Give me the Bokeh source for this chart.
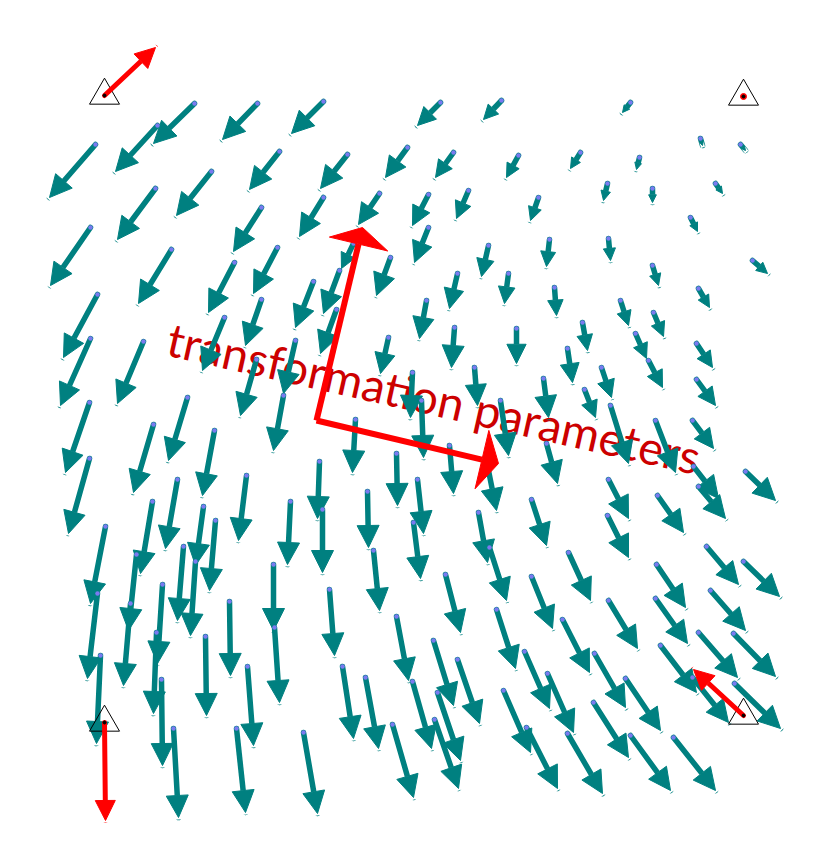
import numpy as np
from bokeh.plotting import figure
from bokeh.models import ColumnDataSource, Arrow, NormalHead, Range1d
from bokeh.core.properties import value
from bokeh.embed import file_html
from bokeh.resources import INLINE

# ---- data (image-pixel coordinates: tail x, tail y, head x, head y) ----
tail_x = [194,257,323,157,95,279,347,407,211,155,90,261,323,379,171,234,277,353,390,339,313,97,224,261,336,388,295,90,143,256,283,89,187,
          153,214,355,89,177,246,319,396,152,203,195,215,290,322,367,105,183,136,130,97,162,156,229,273,274,329,373,396,205,100,161,247,342,365,392,173,236,303,
          440,501,630,700,740,453,518,580,639,607,652,715,428,468,538,690,428,488,549,608,752,652,457,508,554,698,426,620,653,454,516,582,635,696,567,648,601,696,474,543,584,412,
          692,449,500,546,610,655,693,698,745,417,488,531,608,657,607,413,478,489,568,706,743,656,445,531,710,655,608,496,562,698,733,660,433,457,524,594,412,437,547,625,692,734,503,593,434,526,567,630,673,421]
tail_y = [103,103,101,125,144,151,154,147,171,188,227,207,197,193,249,262,247,243,257,270,281,294,317,299,309,337,340,338,341,359,395,402,397,
          424,430,419,458,479,475,461,453,501,506,561,520,501,509,491,526,546,554,603,593,584,632,601,564,627,589,550,616,636,655,679,666,666,677,724,728,728,732,
          102,100,102,138,144,152,155,152,157,183,188,183,194,190,197,217,227,245,239,238,260,265,273,273,287,288,300,300,312,327,328,322,333,343,348,360,367,379,367,378,389,372,
          420,445,400,443,405,420,466,486,471,479,470,499,479,495,515,522,512,547,552,546,561,564,574,576,590,598,600,609,619,632,633,645,640,659,651,653,681,692,673,678,677,683,690,702,719,727,733,735,737,400]
head_x = [153,222,291,115,49,249,320,385,176,117,50,233,299,358,138,208,253,341,376,323,295,63,202,245,320,380,283,60,117,240,273,65,168,
          133,202,352,68,165,238,317,397,140,195,190,209,287,322,368,90,177,128,123,87,157,153,230,273,279,334,379,408,206,96,162,253,353,378,413,178,245,317,
          417,483,622,702,745,435,506,570,636,603,652,722,412,456,530,697,414,481,546,610,767,658,449,504,556,709,419,628,663,451,516,587,646,712,572,662,611,715,477,548,595,410,
          713,453,508,557,628,675,718,725,775,423,496,546,628,683,628,420,487,506,590,738,779,685,460,552,745,687,637,515,589,737,775,696,453,479,549,625,431,460,573,660,728,780,530,628,458,557,602,670,715,423]
head_y = [143,139,133,171,197,189,188,177,215,239,285,251,236,224,303,312,293,268,295,313,327,357,370,345,353,373,393,405,403,415,450,472,460,
          492,495,472,533,548,540,518,505,573,565,635,590,564,572,547,603,620,630,685,678,663,713,675,630,702,655,610,680,715,743,765,745,738,748,797,817,812,813,
          125,119,112,145,150,177,177,168,169,200,202,193,225,218,220,231,262,276,266,260,273,285,308,303,315,307,338,325,336,367,363,350,358,367,382,387,397,405,405,417,417,417,
          448,493,455,483,463,472,498,518,500,533,510,545,518,532,557,578,562,600,600,584,596,607,632,628,630,643,648,668,672,677,676,692,705,723,708,707,748,760,732,730,722,728,752,757,788,788,793,790,790,457]

# control points (triangles) and their displacement arrows
cp_x = [104, 743, 104, 743]
cp_y = [95, 96, 722, 715]
cp_dx = [51, 0, 1, -50]
cp_dy = [-48, 0, 98, -46]

# transformation parameter axes
origin = (316, 420)
axis_tip_x = [362, 498]
axis_tip_y = [227, 463]

label_text = "transformation parameters"

TEAL = "#008080"
RED = "#ff0000"

p = figure(width=808, height=838, output_backend="svg", toolbar_location=None,
           x_range=Range1d(0, 808), y_range=Range1d(838, 0),
           min_border=0, outline_line_color=None)
p.axis.visible = False
p.grid.visible = False
p.background_fill_color = "white"
p.border_fill_color = "white"

# label (drawn beneath the vector field)
p.text(x=[168], y=[337], text=[label_text], angle=-0.222,
       text_font=value("Lato"), text_font_size="46.5px", text_color="#cc0000",
       text_align="left", text_baseline="alphabetic", level="underlay")

tx0 = np.array(tail_x, float); ty0 = np.array(tail_y, float)
hx0 = np.array(head_x, float); hy0 = np.array(head_y, float)
alen = np.hypot(hx0 - tx0, hy0 - ty0)
hsize = np.clip(alen * 0.55, 4, 22)

src = ColumnDataSource(dict(x0=tail_x, y0=tail_y, x1=head_x, y1=head_y, hs=hsize))
teal_arrows = Arrow(end=NormalHead(size="hs", fill_color=TEAL, line_color=TEAL, line_width=1),
                    x_start="x0", y_start="y0", x_end="x1", y_end="y1", source=src,
                    line_color=TEAL, line_width=5.5, line_cap="round", level="underlay")
p.add_layout(teal_arrows)
p.scatter("x0", "y0", source=src, size=4.5, color="#7a7af0", line_color=None)

# big red axes
ox, oy = origin
tx = np.array(axis_tip_x, float); ty = np.array(axis_tip_y, float)
dx = tx - ox; dy = ty - oy
ln = np.hypot(dx, dy)
ux, uy = dx / ln, dy / ln
hl, hw = 17.0, 30.0
bx, by = tx - ux * hl, ty - uy * hl
p.segment(x0=[ox, ox], y0=[oy, oy], x1=list(bx), y1=list(by), line_color=RED, line_width=6)
p.patches(xs=[[tx[i], bx[i] - uy[i] * hw, bx[i] + uy[i] * hw] for i in range(2)],
          ys=[[ty[i], by[i] + ux[i] * hw, by[i] - ux[i] * hw] for i in range(2)],
          color=RED, line_color=RED)

# control point triangles
p.scatter(cp_x, cp_y, marker="triangle", size=30, fill_alpha=0,
          line_color="black", line_width=1)

csrc = ColumnDataSource(dict(x0=[cp_x[i] for i in (0, 2, 3)], y0=[cp_y[i] for i in (0, 2, 3)],
                             x1=[cp_x[i] + cp_dx[i] for i in (0, 2, 3)],
                             y1=[cp_y[i] + cp_dy[i] for i in (0, 2, 3)]))
red_arrows = Arrow(end=NormalHead(size=20, fill_color=RED, line_color=RED),
                   x_start="x0", y_start="y0", x_end="x1", y_end="y1", source=csrc,
                   line_color=RED, line_width=5, line_cap="round")
p.add_layout(red_arrows)
p.scatter([cp_x[1]], [cp_y[1]], size=6, color=RED)
p.scatter(cp_x, cp_y, size=3, color="black", level="overlay")

open("out.html", "w").write(file_html(p, INLINE))
